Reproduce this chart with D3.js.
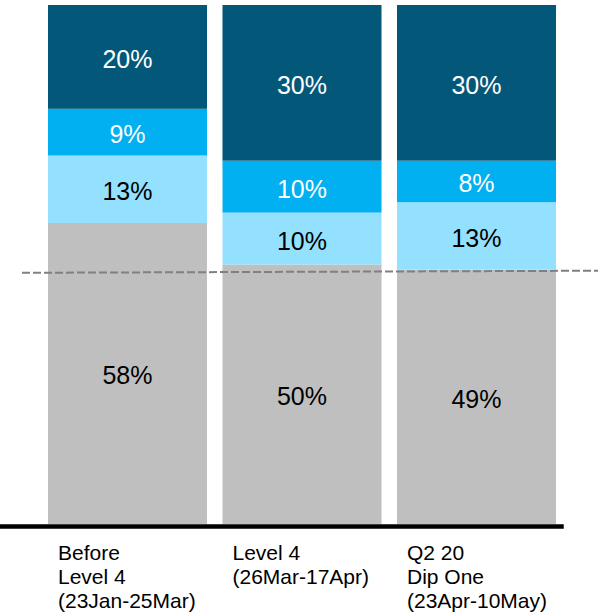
<!DOCTYPE html>
<html>
<head>
<meta charset="utf-8">
<script src="https://cdn.jsdelivr.net/npm/d3@7"></script>
<style>
  html, body { margin: 0; padding: 0; background: #fff; }
  svg { display: block; font-family: "Liberation Sans", Arial, sans-serif; }
</style>
</head>
<body>
<svg id="chart" width="598" height="612"></svg>
<script>
// ---- data ----
const categories = ["Before Level 4", "Level 4", "Q2 20 Dip One"];
const categoryLines = [
  ["Before", "Level 4", "(23Jan-25Mar)"],
  ["Level 4", "(26Mar-17Apr)"],
  ["Q2 20", "Dip One", "(23Apr-10May)"]
];
const seriesNames = ["grey", "light", "mid", "dark"];   // bottom to top
const greyValues  = [58, 50, 49];
const lightValues = [13, 10, 13];
const midValues   = [9, 10, 8];
const darkValues  = [20, 30, 30];
const referenceLine = [48.4, 48.8]; // dashed line level at left / right

const colors = { grey: "#bfbfbf", light: "#93e1ff", mid: "#00b0f0", dark: "#03587a" };
const textColors = { grey: "#000", light: "#000", mid: "#fff", dark: "#fff" };

// ---- build table ----
const table = categories.map((c, i) => ({
  category: c,
  grey: greyValues[i], light: lightValues[i], mid: midValues[i], dark: darkValues[i]
}));
const stack = d3.stack().keys(seriesNames);
const layers = stack(table);

const svg = d3.select("#chart");
const x = d3.scaleBand().domain(categories).range([40.25, 563.75]).paddingInner(0.0888).paddingOuter(0.0444);
const y = d3.scaleLinear().domain([0, 100]).range([524, 5]);

const g = svg.append("g");
layers.forEach(layer => {
  const key = layer.key;
  g.selectAll(null).data(layer).enter().append("rect")
    .attr("x", d => x(d.data.category))
    .attr("width", x.bandwidth())
    .attr("y", d => y(d[1]))
    .attr("height", d => y(d[0]) - y(d[1]))
    .attr("fill", colors[key]);
  g.selectAll(null).data(layer).enter().append("text")
    .attr("x", d => x(d.data.category) + x.bandwidth() / 2)
    .attr("y", d => (y(d[0]) + y(d[1])) / 2)
    .attr("dy", "0.44em")
    .attr("text-anchor", "middle")
    .attr("font-size", 25)
    .attr("fill", textColors[key])
    .text(d => d.data[key] + "%");
});

// dashed reference line
svg.append("line")
  .attr("x1", 22).attr("x2", 598)
  .attr("y1", y(referenceLine[0])).attr("y2", y(referenceLine[1]))
  .attr("stroke", "#808080")
  .attr("stroke-width", 2)
  .attr("stroke-dasharray", "8,3");

// axis line
svg.append("line")
  .attr("x1", 0).attr("x2", x.range()[1])
  .attr("y1", 526.5).attr("y2", 526.5)
  .attr("stroke", "#000")
  .attr("stroke-width", 4.5);

// category labels
const labels = svg.append("g");
categories.forEach((c, i) => {
  const t = labels.append("text")
    .attr("x", x(c) + 10)
    .attr("y", 559.5)
    .attr("font-size", 21)
    .attr("fill", "#000");
  categoryLines[i].forEach((line, j) => {
    t.append("tspan").attr("x", x(c) + 10).attr("dy", j === 0 ? 0 : 24).text(line);
  });
});
</script>
</body>
</html>
